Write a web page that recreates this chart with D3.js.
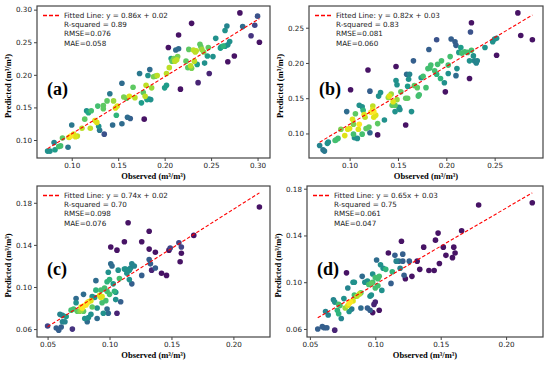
<!DOCTYPE html>
<html>
<head>
<meta charset="utf-8">
<script src="https://cdn.jsdelivr.net/npm/d3@7"></script>
<style>
  body { margin: 0; background: #fff; }
  svg { display: block; }
</style>
</head>
<body>
<div id="chart"></div>
<script>
// points: [observed, predicted, density (0 = sparse / purple, 1 = dense / yellow)]
const pointsA = [
  [0.074,0.083,0.5],[0.0766,0.083,0.5],[0.081,0.096,0.45],[0.082,0.085,0.55],[0.086,0.090,0.7],
  [0.088,0.091,0.7],[0.090,0.103,0.75],[0.096,0.089,0.4],[0.097,0.104,0.95],[0.099,0.106,1.0],
  [0.102,0.109,0.95],[0.104,0.105,0.95],[0.106,0.106,0.9],[0.100,0.123,0.4],[0.111,0.118,0.9],
  [0.114,0.132,0.75],[0.116,0.145,0.5],[0.118,0.142,0.6],[0.121,0.145,0.7],[0.120,0.118,0.9],
  [0.125,0.130,0.95],[0.127,0.127,0.95],[0.129,0.121,0.5],[0.130,0.115,0.4],[0.128,0.152,0.7],
  [0.134,0.153,0.75],[0.134,0.148,0.75],[0.135,0.109,0.25],[0.138,0.160,0.75],[0.141,0.171,0.4],
  [0.144,0.123,0.35],[0.145,0.160,0.85],[0.147,0.149,0.95],[0.148,0.138,0.65],[0.149,0.152,0.95],
  [0.154,0.187,0.35],[0.154,0.125,0.35],[0.156,0.166,0.8],[0.159,0.164,0.75],[0.160,0.135,0.35],
  [0.163,0.133,0.3],[0.162,0.167,0.95],[0.166,0.181,0.75],[0.168,0.165,0.9],[0.173,0.202,0.4],
  [0.175,0.157,0.55],[0.177,0.173,0.75],[0.179,0.167,0.9],[0.178,0.132,0.05],[0.181,0.162,0.55],
  [0.183,0.163,0.5],[0.185,0.162,0.5],[0.180,0.184,0.9],[0.182,0.199,0.5],[0.184,0.208,0.35],
  [0.186,0.180,0.85],[0.188,0.197,0.8],[0.190,0.198,0.8],[0.192,0.199,0.9],[0.200,0.180,0.55],
  [0.202,0.184,0.55],[0.202,0.202,0.9],[0.204,0.242,0.05],[0.205,0.211,0.9],[0.207,0.225,0.55],
  [0.208,0.221,0.75],[0.210,0.225,0.8],[0.211,0.221,0.9],[0.213,0.223,0.9],[0.214,0.228,0.8],
  [0.212,0.238,0.35],[0.215,0.240,0.35],[0.215,0.261,0.05],[0.217,0.178,0.05],[0.223,0.221,0.75],
  [0.225,0.211,0.75],[0.226,0.239,0.75],[0.228,0.214,0.9],[0.229,0.210,0.8],[0.229,0.279,0.05],
  [0.231,0.238,0.9],[0.233,0.235,0.9],[0.234,0.237,0.9],[0.232,0.221,0.9],[0.235,0.216,0.55],
  [0.236,0.188,0.1],[0.238,0.247,0.75],[0.239,0.243,0.75],[0.240,0.239,0.85],[0.242,0.235,0.8],
  [0.243,0.218,0.5],[0.246,0.229,0.55],[0.247,0.242,0.75],[0.248,0.202,0.1],[0.252,0.228,0.5],
  [0.255,0.256,0.5],[0.260,0.241,0.55],[0.261,0.243,0.55],[0.263,0.244,0.65],[0.265,0.244,0.5],
  [0.268,0.246,0.5],[0.265,0.268,0.5],[0.267,0.275,0.45],[0.268,0.220,0.05],[0.270,0.251,0.5],
  [0.275,0.229,0.05],[0.281,0.295,0.05],[0.284,0.274,0.35],[0.293,0.260,0.15],[0.297,0.276,0.2],
  [0.300,0.290,0.25],[0.302,0.250,0.05]
];

const pointsB = [
  [0.069,0.083,0.45],[0.0725,0.077,0.4],[0.074,0.075,0.4],[0.077,0.086,0.5],[0.078,0.088,0.5],
  [0.086,0.091,0.7],[0.088,0.093,0.7],[0.085,0.090,0.7],[0.091,0.106,0.8],[0.095,0.097,0.95],
  [0.097,0.131,0.35],[0.098,0.106,0.95],[0.100,0.107,0.95],[0.101,0.162,0.05],[0.103,0.120,0.95],
  [0.104,0.113,0.8],[0.104,0.099,0.7],[0.105,0.094,0.5],[0.108,0.093,0.5],[0.106,0.128,0.75],
  [0.109,0.106,0.95],[0.110,0.113,1.0],[0.110,0.140,0.5],[0.113,0.138,0.5],[0.114,0.133,0.65],
  [0.113,0.099,0.7],[0.116,0.123,0.9],[0.115,0.127,0.95],[0.117,0.107,0.75],[0.120,0.109,0.75],
  [0.119,0.190,0.05],[0.121,0.101,0.35],[0.121,0.160,0.3],[0.122,0.130,1.0],[0.124,0.134,0.95],
  [0.125,0.131,1.0],[0.127,0.126,0.95],[0.124,0.139,0.9],[0.125,0.123,0.95],[0.129,0.098,0.05],
  [0.130,0.153,0.5],[0.132,0.158,0.5],[0.129,0.114,0.75],[0.136,0.119,0.5],[0.140,0.151,0.85],
  [0.141,0.153,0.95],[0.143,0.156,0.85],[0.144,0.140,0.75],[0.145,0.145,0.95],[0.147,0.140,0.75],
  [0.147,0.131,0.5],[0.148,0.195,0.05],[0.148,0.175,0.5],[0.149,0.169,0.5],[0.149,0.148,0.85],
  [0.151,0.137,0.5],[0.152,0.134,0.5],[0.153,0.159,0.75],[0.158,0.112,0.05],[0.158,0.150,0.75],
  [0.160,0.150,0.75],[0.159,0.184,0.35],[0.162,0.184,0.45],[0.160,0.167,0.55],[0.161,0.177,0.5],
  [0.164,0.131,0.5],[0.166,0.203,0.3],[0.167,0.168,0.75],[0.170,0.165,0.75],[0.171,0.153,0.7],
  [0.172,0.155,0.7],[0.174,0.179,0.5],[0.176,0.181,0.7],[0.179,0.165,0.7],[0.181,0.192,0.7],
  [0.183,0.193,0.7],[0.184,0.197,0.7],[0.182,0.219,0.3],[0.188,0.189,0.7],[0.190,0.184,0.65],
  [0.190,0.233,0.25],[0.191,0.198,0.7],[0.194,0.178,0.65],[0.195,0.203,0.7],[0.198,0.172,0.5],
  [0.199,0.159,0.05],[0.202,0.185,0.5],[0.202,0.197,0.7],[0.204,0.209,0.7],[0.205,0.234,0.3],
  [0.209,0.230,0.3],[0.210,0.225,0.3],[0.210,0.182,0.35],[0.211,0.192,0.5],[0.213,0.215,0.55],
  [0.215,0.222,0.55],[0.216,0.214,0.7],[0.219,0.216,0.7],[0.222,0.215,0.7],[0.224,0.178,0.05],
  [0.225,0.244,0.25],[0.226,0.257,0.05],[0.224,0.203,0.5],[0.226,0.218,0.7],[0.228,0.210,0.5],
  [0.229,0.203,0.45],[0.231,0.200,0.45],[0.232,0.203,0.45],[0.240,0.222,0.5],[0.248,0.230,0.5],
  [0.250,0.234,0.5],[0.252,0.235,0.5],[0.252,0.211,0.05],[0.274,0.271,0.05],[0.277,0.239,0.05],
  [0.289,0.233,0.05]
];

const pointsC = [
  [0.050,0.063,0.2],[0.057,0.061,0.3],[0.059,0.059,0.3],[0.061,0.062,0.3],[0.060,0.074,0.45],
  [0.062,0.073,0.45],[0.062,0.067,0.45],[0.064,0.067,0.45],[0.065,0.072,0.55],[0.070,0.060,0.15],
  [0.069,0.078,0.7],[0.071,0.079,0.7],[0.073,0.089,0.35],[0.073,0.085,0.5],[0.074,0.077,0.75],
  [0.076,0.077,0.8],[0.077,0.081,0.95],[0.078,0.080,1.0],[0.079,0.082,1.0],[0.081,0.083,1.0],
  [0.082,0.085,1.0],[0.083,0.086,0.95],[0.085,0.087,0.95],[0.077,0.078,0.85],[0.079,0.077,0.75],
  [0.079,0.093,0.35],[0.080,0.070,0.5],[0.083,0.071,0.5],[0.082,0.067,0.35],[0.085,0.074,0.5],
  [0.086,0.081,0.75],[0.086,0.091,0.5],[0.088,0.090,0.5],[0.089,0.097,0.65],[0.089,0.106,0.35],
  [0.090,0.070,0.35],[0.090,0.080,0.5],[0.092,0.092,0.95],[0.093,0.090,0.95],[0.094,0.091,0.95],
  [0.093,0.097,0.7],[0.096,0.099,0.7],[0.094,0.085,0.7],[0.097,0.087,0.7],[0.095,0.075,0.5],
  [0.098,0.105,0.65],[0.100,0.107,0.65],[0.098,0.079,0.35],[0.099,0.075,0.35],[0.098,0.096,0.7],
  [0.100,0.093,0.7],[0.099,0.114,0.5],[0.101,0.122,0.35],[0.102,0.120,0.35],[0.101,0.138,0.05],
  [0.103,0.103,0.55],[0.104,0.096,0.65],[0.105,0.095,0.5],[0.105,0.088,0.5],[0.106,0.135,0.05],
  [0.106,0.075,0.1],[0.107,0.116,0.5],[0.108,0.108,0.7],[0.109,0.086,0.3],[0.112,0.117,0.5],
  [0.113,0.117,0.5],[0.112,0.143,0.05],[0.114,0.113,0.5],[0.116,0.116,0.5],[0.115,0.161,0.05],
  [0.116,0.107,0.5],[0.117,0.118,0.45],[0.118,0.122,0.45],[0.120,0.120,0.45],[0.118,0.103,0.3],
  [0.126,0.143,0.05],[0.126,0.111,0.3],[0.132,0.126,0.3],[0.133,0.122,0.3],[0.132,0.153,0.05],
  [0.132,0.136,0.05],[0.134,0.116,0.1],[0.137,0.133,0.05],[0.137,0.118,0.3],[0.142,0.113,0.05],
  [0.146,0.111,0.05],[0.148,0.135,0.05],[0.149,0.137,0.2],[0.156,0.142,0.2],[0.158,0.138,0.2],
  [0.157,0.124,0.05],[0.158,0.132,0.05],[0.168,0.149,0.05],[0.221,0.176,0.05]
];

const pointsD = [
  [0.056,0.060,0.3],[0.0595,0.062,0.3],[0.061,0.061,0.3],[0.063,0.061,0.3],[0.062,0.075,0.45],
  [0.064,0.072,0.45],[0.069,0.059,0.1],[0.068,0.085,0.45],[0.069,0.083,0.5],[0.071,0.076,0.65],
  [0.072,0.073,0.65],[0.072,0.081,0.7],[0.073,0.080,0.7],[0.074,0.069,0.45],[0.076,0.086,0.5],
  [0.077,0.078,0.85],[0.079,0.080,0.95],[0.080,0.082,1.0],[0.081,0.083,1.0],[0.083,0.084,0.95],
  [0.078,0.108,0.05],[0.079,0.095,0.45],[0.080,0.075,0.5],[0.082,0.077,0.4],[0.083,0.100,0.5],
  [0.084,0.100,0.5],[0.084,0.089,0.7],[0.085,0.088,0.7],[0.086,0.088,0.9],[0.088,0.090,0.9],
  [0.089,0.091,0.75],[0.089,0.078,0.35],[0.090,0.105,0.35],[0.092,0.100,0.5],[0.094,0.101,0.5],
  [0.094,0.078,0.3],[0.096,0.076,0.3],[0.095,0.098,0.7],[0.097,0.099,0.75],[0.098,0.100,0.7],
  [0.096,0.088,0.5],[0.097,0.089,0.5],[0.098,0.107,0.5],[0.098,0.074,0.05],[0.099,0.081,0.1],
  [0.100,0.083,0.1],[0.100,0.095,0.7],[0.102,0.097,0.7],[0.100,0.104,0.7],[0.102,0.103,0.7],
  [0.103,0.105,0.7],[0.101,0.119,0.35],[0.103,0.076,0.05],[0.104,0.115,0.5],[0.106,0.112,0.5],
  [0.105,0.093,0.5],[0.108,0.111,0.65],[0.110,0.125,0.05],[0.112,0.099,0.3],[0.113,0.109,0.65],
  [0.115,0.123,0.3],[0.116,0.118,0.45],[0.118,0.118,0.35],[0.119,0.112,0.45],[0.120,0.135,0.05],
  [0.121,0.124,0.3],[0.121,0.118,0.3],[0.122,0.106,0.3],[0.123,0.103,0.05],[0.126,0.118,0.3],
  [0.128,0.105,0.05],[0.132,0.118,0.05],[0.134,0.111,0.05],[0.137,0.130,0.05],[0.141,0.110,0.05],
  [0.145,0.110,0.05],[0.146,0.136,0.05],[0.148,0.142,0.05],[0.149,0.116,0.05],[0.152,0.130,0.05],
  [0.154,0.123,0.05],[0.159,0.121,0.05],[0.160,0.130,0.05],[0.161,0.125,0.05],[0.166,0.144,0.05],
  [0.179,0.166,0.05],[0.220,0.168,0.05]
];

const panelLetters = ['(a)', '(b)', '(c)', '(d)'];
const fitSlopes = [0.875, 0.82, 0.744, 0.652];
const fitIntercepts = [0.022, 0.031, 0.025, 0.033];
const fitLabels = ['Fitted Line: y = 0.86x + 0.02', 'Fitted Line: y = 0.82x + 0.03',
                   'Fitted Line: y = 0.74x + 0.02', 'Fitted Line: y = 0.65x + 0.03'];
const r2Labels = ['R-squared = 0.89', 'R-squared = 0.83', 'R-squared = 0.70', 'R-squared = 0.75'];
const rmseLabels = ['RMSE=0.076', 'RMSE=0.081', 'RMSE=0.098', 'RMSE=0.061'];
const maeLabels = ['MAE=0.058', 'MAE=0.060', 'MAE=0.076', 'MAE=0.047'];
const xTicks = [[0.10, 0.15, 0.20, 0.25, 0.30], [0.10, 0.15, 0.20, 0.25],
                [0.05, 0.10, 0.15, 0.20], [0.05, 0.10, 0.15, 0.20]];
const yTicks = [[0.10, 0.15, 0.20, 0.25, 0.30], [0.10, 0.15, 0.20, 0.25],
                [0.06, 0.10, 0.14, 0.18], [0.06, 0.10, 0.14, 0.18]];
const allPoints = [pointsA, pointsB, pointsC, pointsD];

// plot boxes in pixels
const boxes = [
  { left: 37, top: 6, right: 270, bottom: 158 },
  { left: 309, top: 6, right: 543, bottom: 158 },
  { left: 37, top: 186, right: 270, bottom: 337 },
  { left: 307, top: 186, right: 543, bottom: 337 }
];

const sans = 'DejaVu Sans, sans-serif';
const serif = 'Liberation Serif, Times New Roman, serif';
const red = '#ff0000';

const svg = d3.select('#chart')
  .append('svg')
  .attr('width', 550)
  .attr('height', 365);

// matplotlib style 5% padding
function pad(ext) {
  let m = (ext[1] - ext[0]) * 0.05;
  return [ext[0] - m, ext[1] + m];
}

function drawPanel(i) {
  let box = boxes[i];
  let pts = allPoints[i];
  let g = svg.append('g');

  let xExt = d3.extent(pts, d => d[0]);
  let lineY = xExt.map(x => fitSlopes[i] * x + fitIntercepts[i]);
  let yExt = d3.extent(pts.map(d => d[1]).concat(lineY));

  let x = d3.scaleLinear().domain(pad(xExt)).range([box.left, box.right]);
  let y = d3.scaleLinear().domain(pad(yExt)).range([box.bottom, box.top]);

  // axes
  let xAxis = d3.axisBottom(x).tickValues(xTicks[i]).tickFormat(d3.format('.2f')).tickSize(3).tickPadding(2);
  let yAxis = d3.axisLeft(y).tickValues(yTicks[i]).tickFormat(d3.format('.2f')).tickSize(3).tickPadding(2);

  g.append('g')
    .attr('transform', `translate(0,${box.bottom})`)
    .call(xAxis)
    .call(a => a.select('.domain').remove());
  g.append('g')
    .attr('transform', `translate(${box.left},0)`)
    .call(yAxis)
    .call(a => a.select('.domain').remove());

  g.selectAll('.tick line').attr('stroke', '#444');
  g.selectAll('.tick text')
    .attr('fill', '#1a1a1a')
    .style('font-family', sans)
    .style('font-size', '7.2px');

  // points, dense ones on top
  let sorted = pts.slice().sort((a, b) => a[2] - b[2]);
  g.selectAll('circle')
    .data(sorted)
    .join('circle')
    .attr('cx', d => x(d[0]))
    .attr('cy', d => y(d[1]))
    .attr('r', 2.8)
    .attr('fill', d => d3.interpolateViridis(d[2]));

  // fitted line
  g.append('line')
    .attr('x1', x(xExt[0])).attr('y1', y(lineY[0]))
    .attr('x2', x(xExt[1])).attr('y2', y(lineY[1]))
    .attr('stroke', red)
    .attr('stroke-width', 1.1)
    .attr('stroke-dasharray', '3.5,2');

  // frame
  g.append('rect')
    .attr('x', box.left).attr('y', box.top)
    .attr('width', box.right - box.left)
    .attr('height', box.bottom - box.top)
    .attr('fill', 'none')
    .attr('stroke', '#444')
    .attr('stroke-width', 1.2);

  // legend
  g.append('line')
    .attr('x1', box.left + 6).attr('x2', box.left + 22)
    .attr('y1', box.top + 9.5).attr('y2', box.top + 9.5)
    .attr('stroke', red)
    .attr('stroke-width', 1.3)
    .attr('stroke-dasharray', '4,2');

  let legendRows = [
    [fitLabels[i], 12],
    [r2Labels[i], 20.5],
    [rmseLabels[i], 29.5],
    [maeLabels[i], 40]
  ];
  g.selectAll('.legend-text')
    .data(legendRows)
    .join('text')
    .attr('class', 'legend-text')
    .attr('x', box.left + 27)
    .attr('y', d => box.top + d[1])
    .attr('fill', '#1a1a1a')
    .style('font-family', sans)
    .style('font-size', '7.2px')
    .text(d => d[0]);

  // panel letter
  g.append('text')
    .attr('x', box.left + 10)
    .attr('y', box.top + 89)
    .style('font-family', serif)
    .style('font-weight', 'bold')
    .style('font-size', '18px')
    .text(panelLetters[i]);

  // axis titles
  g.append('text')
    .attr('x', (box.left + box.right) / 2)
    .attr('y', box.bottom + 21)
    .attr('text-anchor', 'middle')
    .style('font-family', serif)
    .style('font-weight', 'bold')
    .style('font-size', '8.5px')
    .text('Observed (m³/m³)');

  g.append('text')
    .attr('transform', `translate(${box.left - 26},${(box.top + box.bottom) / 2 + 4}) rotate(-90)`)
    .attr('text-anchor', 'middle')
    .style('font-family', serif)
    .style('font-weight', 'bold')
    .style('font-size', '8.5px')
    .text('Predicted (m³/m³)');
}

[0, 1, 2, 3].forEach(drawPanel);
</script>
</body>
</html>
